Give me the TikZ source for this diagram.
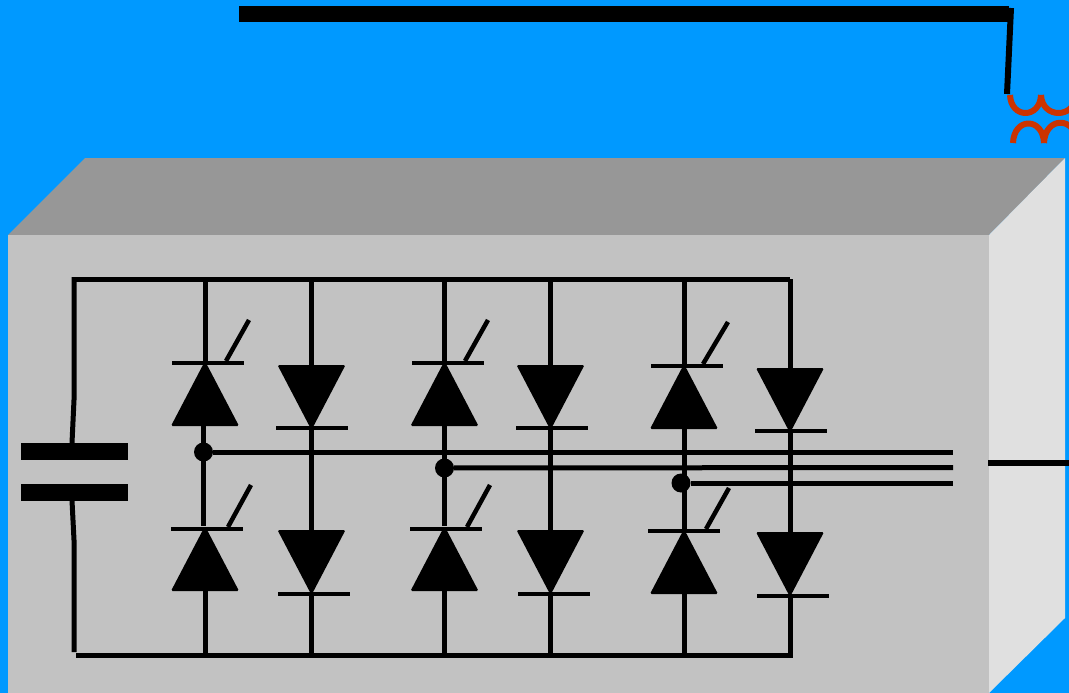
\documentclass[tikz,border=0pt]{standalone}
\usepackage{amsmath, amssymb}
\usetikzlibrary{shapes.geometric}

\begin{document}
\begin{tikzpicture}[x=1pt,y=-1pt]
		
		\definecolor{skyblue}{RGB}{0,153,255}
		\definecolor{coilred}{RGB}{204,51,0}
		\definecolor{boxfront}{RGB}{194,194,194}
		\definecolor{boxtop}{RGB}{151,151,151}
		\definecolor{boxside}{RGB}{224,224,224}
		
		\tikzstyle{edge} = [draw,-,line width=5pt]
		\tikzstyle{thin edge} = [draw,-,line width=4.5pt]
		\tikzstyle{coil} = [draw=coilred,-,line width=6pt,line join=bevel]
		\tikzset{thyristor/.style = {shape=isosceles triangle,isosceles triangle stretches,shape border rotate=90,anchor=apex,fill=black,draw=none,inner sep=0pt,outer sep=0pt,minimum width=68pt,minimum height=65pt,rounded corners=1.5pt}}
		\tikzset{diode/.style = {thyristor,shape border rotate=270}}
		\tikzset{bar/.style = {shape=rectangle,fill=black,inner sep=0pt,outer sep=0pt,minimum width=72pt,minimum height=4.5pt}}
		\tikzset{plate/.style = {shape=rectangle,fill=black,inner sep=0pt,outer sep=0pt,minimum width=107pt,minimum height=17pt}}
		\tikzset{junction/.style = {shape=circle,fill=black,inner sep=0pt,outer sep=0pt,minimum size=19pt}}
		
		\useasboundingbox (0,0) rectangle (1069,693);
		\fill[skyblue] (0,0) rectangle (1069,693);
		\clip (0,0) rectangle (1069,693);
		
		% housing
		\fill[boxtop] (8,235) -- (85,158) -- (1065,158) -- (989,235) -- cycle;
		\fill[boxside] (989,235) -- (1065,158) -- (1065,618) -- (989,693) -- cycle;
		\fill[boxfront] (8,235) rectangle (989,693);
		
		% supply line and coil
		\coordinate (linea) at (239,14);
		\coordinate (lineb) at (1009,14);
		\coordinate (dropa) at (1011,8);
		\coordinate (dropb) at (1007,94);
		\draw[draw,line width=16pt] (linea) -- (lineb);
		\draw[draw,line width=6pt] (dropa) -- (dropb);
		\draw[coil] (1010,95) .. controls (1011,119) and (1040,119) .. (1041,95);
		\draw[coil] (1041,95) .. controls (1042,119) and (1075,119) .. (1076,95);
		\draw[coil] (1013,143) .. controls (1014,117) and (1043,117) .. (1044,143);
		\draw[coil] (1044,143) .. controls (1045,116) and (1076,116) .. (1077,143);
		
		% capacitor
		\node[plate] (capa) at (74.5,451.5) {};
		\node[plate] (capb) at (74.5,492) {};
		
		% rails
		\coordinate (topl) at (74,279);
		\coordinate (topr) at (790,279);
		\coordinate (botl) at (76,655);
		\coordinate (botr) at (793,655);
		\coordinate (lefta) at (74,400);
		\coordinate (leftb) at (74,540);
		\coordinate (leftc) at (74,652);
		\draw[edge] (topl) -- (topr);
		\draw[edge] (botl) -- (botr);
		\draw[edge] (74,277) -- (lefta) -- (capa.north -| 72,0);
		\draw[edge] (leftc) -- (leftb) -- (capb.south -| 72,0);
		
		% upper devices
		\node[thyristor] (ta) at (205,361) {};
		\node[bar] (tabar) at (208,363) {};
		\node[diode] (da) at (311.5,430) {};
		\node[bar] (dabar) at (312,428) {};
		\node[thyristor] (tb) at (444.5,361) {};
		\node[bar] (tbbar) at (447.5,363) {};
		\node[diode] (db) at (550.5,430) {};
		\node[bar] (dbbar) at (551.5,428) {};
		\node[thyristor] (tc) at (684,364) {};
		\node[bar] (tcbar) at (686.5,366) {};
		\node[diode] (dc) at (790,433) {};
		\node[bar] (dcbar) at (791,431) {};
		
		% lower devices
		\node[thyristor] (te) at (205,526) {};
		\node[bar] (tebar) at (206.5,529) {};
		\node[diode] (de) at (311.5,595) {};
		\node[bar] (debar) at (314,594) {};
		\node[thyristor] (tf) at (444.5,526) {};
		\node[bar] (tfbar) at (445.5,529) {};
		\node[diode] (df) at (550.5,595) {};
		\node[bar] (dfbar) at (553.5,594) {};
		\node[thyristor] (tg) at (684,529) {};
		\node[bar] (tgbar) at (684,531) {};
		\node[diode] (dg) at (790,597) {};
		\node[bar] (dgbar) at (792.5,596) {};
		
		% junctions
		\node[junction] (ja) at (203.5,452) {};
		\node[junction] (jb) at (444.5,468) {};
		\node[junction] (jc) at (681,483) {};
		
		% branches
		\draw[edge] (ta.apex |- topl) to (ta.apex);
		\draw[edge] (ja |- ta.lower side) to (ja |- te.apex);
		\draw[edge] (te.lower side) to (te.lower side |- botl);
		\draw[edge] (da.lower side |- topl) to (da.lower side);
		\draw[edge] (da.apex) to (de.lower side);
		\draw[edge] (de.apex) to (de.apex |- botl);
		\draw[edge] (tb.apex |- topl) to (tb.apex);
		\draw[edge] (tb.lower side) to (tf.apex);
		\draw[edge] (tf.lower side) to (tf.lower side |- botl);
		\draw[edge] (db.lower side |- topl) to (db.lower side);
		\draw[edge] (db.apex) to (df.lower side);
		\draw[edge] (df.apex) to (df.apex |- botl);
		\draw[edge] (tc.apex |- topl) to (tc.apex);
		\draw[edge] (tc.lower side) to (tg.apex);
		\draw[edge] (tg.lower side) to (tg.lower side |- botl);
		\draw[edge] (dc.lower side |- topl) to (dc.lower side);
		\draw[edge] (dc.apex) to (dg.lower side);
		\draw[edge] (dg.apex) to (dg.apex |- botl);
		
		% gates
		\draw[thin edge] (226,361) -- (249,320);
		\draw[thin edge] (228,527) -- (251,485);
		\draw[thin edge] (465,361) -- (488,320);
		\draw[thin edge] (467,527) -- (490,485);
		\draw[thin edge] (703,364) -- (728,322);
		\draw[thin edge] (706,529) -- (729,488);
		
		% phases
		\coordinate (outa) at (953,452);
		\coordinate (outb) at (953,467.5);
		\coordinate (outc) at (953,483);
		\coordinate (terma) at (988,463);
		\coordinate (termb) at (1069,463);
		\draw[edge] (ja) -- (outa);
		\draw[edge] (jb) -- (outb);
		\draw[edge] (jc) -- (outc);
		\draw[draw,line width=6pt] (terma) -- (termb);
		
		\end{tikzpicture}
\end{document}
